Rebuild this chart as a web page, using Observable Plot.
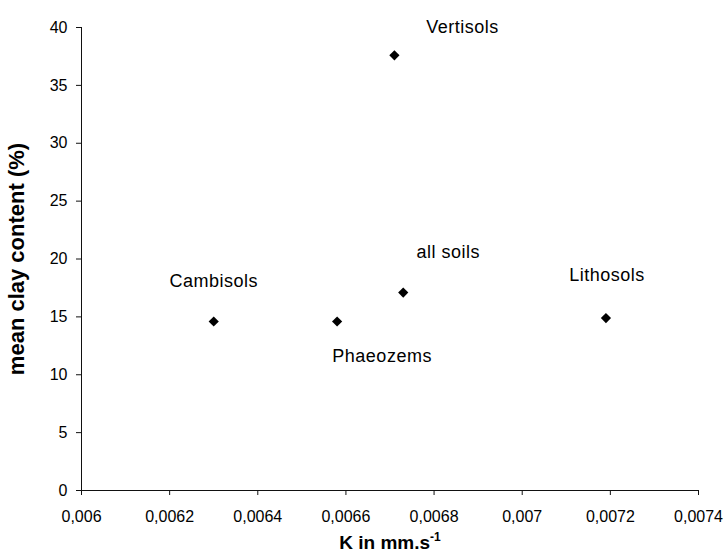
<!DOCTYPE html>
<html><head><meta charset="utf-8">
<script src="https://cdn.jsdelivr.net/npm/d3@7"></script>
<script src="https://cdn.jsdelivr.net/npm/@observablehq/plot@0.6"></script>
<style>body{margin:0;background:#fff} svg{display:block}</style>
</head><body><div id="chart"></div>
<script>
// ---- data ----
const soils = ["Cambisols", "Phaeozems", "all soils", "Vertisols", "Lithosols"];
const kValues = [0.00630, 0.00658, 0.00673, 0.00671, 0.00719];
const clayValues = [14.6, 14.6, 17.1, 37.6, 14.9];
const xTicks = [0.006, 0.0062, 0.0064, 0.0066, 0.0068, 0.007, 0.0072, 0.0074];
const yTicks = [0, 5, 10, 15, 20, 25, 30, 35, 40];
const xTitle = "K in mm.s";
const xTitleSup = "-1";
const yTitle = "mean clay content (%)";

const data = soils.map((s, i) => ({soil: s, k: kValues[i], clay: clayValues[i]}));

// label placement relative to each point (pixels)
const labelShift = {
  "Cambisols": [0, -40],
  "Phaeozems": [45, 35],
  "all soils": [45, -40],
  "Vertisols": [68, -28],
  "Lithosols": [1, -43]
};
const fmt = d => String(+d.toFixed(4)).replace(".", ",");

const chart = Plot.plot({
  width: 726, height: 553,
  marginLeft: 81, marginRight: 28, marginTop: 27, marginBottom: 63,
  style: {fontFamily: "'Liberation Sans', Arial, sans-serif", fontSize: "16px", color: "#000", background: "#fff"},
  x: {domain: [0.006, 0.0074]},
  y: {domain: [0, 40]},
  marks: [
    Plot.axisY({ticks: yTicks, tickSize: 5, tickPadding: 9, label: yTitle, labelAnchor: "center", labelArrow: "none", labelOffset: 73, stroke: "#111"}),
    Plot.axisX({ticks: xTicks, tickFormat: fmt, tickSize: 5, tickPadding: 15, label: xTitle, labelAnchor: "center", labelArrow: "none", labelOffset: 58, stroke: "#111"}),
    Plot.ruleX([0.006], {stroke: "#111"}),
    Plot.ruleY([0], {stroke: "#111"}),
    Plot.dot(data, {x: "k", y: "clay", symbol: "diamond2", r: 4.6, fill: "#000", stroke: null}),
    ...data.map(d => Plot.text([d], {x: "k", y: "clay", text: "soil", dx: labelShift[d.soil][0], dy: labelShift[d.soil][1], fontSize: 18, fill: "#000", className: "soil-label"}))
  ]
});
document.getElementById("chart").appendChild(chart);

const svg = d3.select(chart);
svg.selectAll("g.soil-label text").style("letter-spacing", "0.5px");
svg.select('g[aria-label="y-axis label"]').attr("font-size", 22).attr("font-weight", "bold");
const xl = svg.select('g[aria-label="x-axis label"]').attr("font-size", 19).attr("font-weight", "bold");
const xt = xl.select("text");
xt.append("tspan").attr("font-size", 12).attr("dy", "-0.6em").text(xTitleSup);
</script>
</body></html>
